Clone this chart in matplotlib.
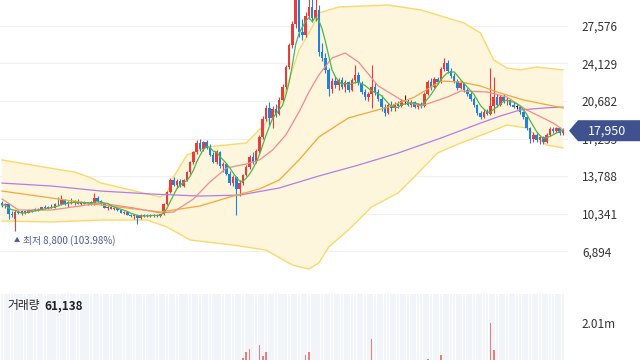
import numpy as np
import pandas as pd
import matplotlib
matplotlib.use('Agg')
import matplotlib.pyplot as plt
from matplotlib.patches import Polygon

# ── Daily candles (KRW) ────────────────────────────────
OPEN = [11300, 11100, 11200, 10300, 9900, 10500, 10400, 10550, 10450, 10650,
        10600, 10800, 10700, 10950, 10850, 11000, 10900, 11250, 11200, 11600,
        11200, 11400, 11300, 11500, 11250, 11400, 11250, 11400, 11200, 11800,
        11500, 11200, 10900, 11000, 10800, 10900, 10650, 10450, 10500, 10250,
        10100, 10200, 9950, 10250, 10100, 10250, 10150, 10250, 10100, 10300,
        11200, 12300, 13400, 13000, 13300, 12900, 13400, 14200, 15100, 16000,
        16800, 16300, 16900, 16400, 15700, 15100, 16000, 14700, 14900, 14000,
        13200, 13700, 12600, 13200, 13900, 14600, 15500, 15100, 16100, 17400,
        19000, 20000, 19100, 19900, 19500, 20800, 22000, 23800, 25800, 27700,
        30000, 27000, 26700, 28500, 29300, 28300, 29000, 25200, 24600, 23500,
        21800, 22500, 22100, 22600, 22000, 22400, 21700, 22600, 23100, 22300,
        21500, 21000, 21300, 22000, 21500, 20900, 20100, 19600, 20300, 20000,
        20400, 20200, 20700, 20700, 20300, 20600, 20100, 20400, 20200, 21300,
        22400, 22000, 22700, 22400, 23600, 24200, 23400, 23000, 22500, 21900,
        22300, 21700, 21300, 20900, 20300, 19600, 19200, 19700, 19500, 20200,
        21000, 20300, 21000, 20700, 20800, 20300, 20100, 20100, 19700, 19200,
        18200, 17200, 17600, 17100, 17400, 16900, 17600, 18100, 17900, 18200,
        17700]
HIGH = [11500, 11300, 11300, 10600, 10700, 10700, 10600, 10700, 10700, 10800,
        10850, 10900, 11000, 11100, 11050, 11200, 11300, 11900, 12100, 11700,
        11500, 11800, 11600, 11650, 11500, 11550, 11450, 11500, 12200, 12000,
        11600, 11300, 11100, 11100, 10950, 11000, 10750, 10600, 10550, 10350,
        10300, 10250, 10300, 10350, 10300, 10350, 10300, 10300, 10350, 11300,
        12400, 13600, 13700, 13500, 13500, 13500, 14300, 15200, 16100, 17100,
        17200, 17000, 17100, 16700, 16000, 16200, 16100, 15100, 15000, 14300,
        13900, 13800, 13400, 14000, 14800, 15700, 16000, 16300, 17600, 19300,
        20300, 20600, 20200, 20400, 21000, 22200, 24000, 26000, 28000, 30800,
        30500, 28200, 28800, 31000, 30200, 30600, 29500, 26000, 25100, 23700,
        22800, 23000, 22800, 22900, 22600, 22500, 22800, 24000, 23300, 22500,
        21800, 21500, 24000, 22300, 21800, 21200, 20400, 20500, 20700, 20600,
        20700, 20900, 21200, 20900, 20800, 20700, 20500, 20600, 21500, 22600,
        22800, 22900, 22900, 23800, 24600, 24400, 23700, 23200, 22700, 22500,
        22400, 21900, 21500, 21000, 20400, 19800, 19900, 19900, 23700, 22900,
        21300, 21200, 21300, 21000, 20900, 20600, 20300, 20200, 19800, 19300,
        18300, 17800, 17700, 17600, 17500, 17700, 18300, 18300, 18300, 18300,
        18200]
LOW = [11000, 10900, 9900, 10000, 8800, 10300, 10200, 10350, 10400, 10500,
       10550, 10600, 10650, 10800, 10800, 10850, 10850, 11100, 11100, 11100,
       11000, 11200, 11150, 11200, 11100, 11200, 11100, 11150, 11150, 11400,
       11100, 10850, 10700, 10750, 10650, 10600, 10400, 10300, 10200, 10000,
       9900, 9400, 9900, 10050, 10000, 10050, 10050, 10050, 10050, 10250,
       11100, 12200, 12900, 12700, 12800, 12800, 13300, 14000, 14900, 15800,
       16100, 16100, 16300, 15600, 15000, 14900, 14500, 14200, 13900, 13000,
       12900, 10200, 12000, 13000, 13800, 14400, 14900, 15000, 15900, 17200,
       18800, 18500, 18200, 19200, 19400, 20600, 21800, 23600, 25500, 27400,
       26500, 26300, 26500, 28200, 27900, 28000, 24800, 24300, 23200, 21100,
       21400, 21900, 21700, 21800, 21500, 21500, 21600, 22300, 22100, 21300,
       20800, 20700, 20000, 21200, 20700, 19800, 19300, 19500, 19800, 19800,
       20000, 20100, 20400, 20200, 20100, 20000, 19900, 20000, 20100, 21200,
       21700, 21900, 22200, 22300, 23400, 23200, 22800, 22300, 21700, 21800,
       21500, 21100, 20700, 20100, 19400, 19000, 19100, 19400, 19400, 19600,
       20100, 20200, 20500, 20300, 20200, 20000, 19900, 19500, 19000, 18000,
       16800, 16900, 16900, 16700, 16700, 16800, 17500, 17700, 17700, 17600,
       17600]
CLOSE = [11100, 11200, 10300, 10200, 10500, 10400, 10550, 10450, 10650, 10600,
         10800, 10700, 10950, 10850, 11000, 10900, 11250, 11200, 11600, 11200,
         11400, 11300, 11500, 11250, 11400, 11250, 11400, 11200, 11800, 11500,
         11200, 10900, 11000, 10800, 10900, 10650, 10450, 10500, 10250, 10100,
         10200, 9950, 10250, 10100, 10250, 10150, 10250, 10100, 10300, 11200,
         12300, 13400, 13000, 13300, 12900, 13400, 14200, 15100, 16000, 16800,
         16300, 16900, 16400, 15700, 15100, 16000, 14700, 14900, 14000, 13200,
         13700, 12600, 13200, 13900, 14600, 15500, 15100, 16100, 17400, 19000,
         20000, 19100, 19900, 19500, 20800, 22000, 23800, 25800, 27700, 30000,
         27000, 26700, 28500, 29300, 28300, 29000, 25200, 24600, 23500, 21800,
         22500, 22100, 22600, 22000, 22400, 21700, 22600, 23100, 22300, 21500,
         21000, 21300, 22000, 21500, 20900, 20100, 19600, 20300, 20000, 20400,
         20200, 20700, 20700, 20300, 20600, 20100, 20400, 20200, 21300, 22400,
         22000, 22700, 22400, 23600, 24200, 23400, 23000, 22500, 21900, 22300,
         21700, 21300, 20900, 20300, 19600, 19200, 19700, 19500, 20200, 21000,
         20300, 21000, 20700, 20800, 20300, 20100, 20100, 19700, 19200, 18200,
         17200, 17600, 17100, 17400, 16900, 17600, 18100, 17900, 18200, 17700,
         17950]
# volume in thousands of shares
VOLUME_K = [320, 280, 450, 300, 520, 260, 210, 240, 190, 230,
            210, 180, 250, 200, 220, 190, 260, 310, 420, 280,
            230, 270, 210, 190, 220, 180, 200, 170, 480, 290,
            240, 260, 180, 170, 160, 190, 210, 150, 170, 190,
            160, 300, 180, 140, 130, 150, 140, 120, 160, 380,
            560, 640, 420, 330, 310, 300, 450, 520, 600, 640,
            500, 380, 350, 420, 430, 480, 720, 380, 400, 720,
            420, 650, 560, 780, 990, 1090, 520, 640, 1240, 850,
            990, 720, 560, 480, 600, 650, 680, 690, 600, 650,
            680, 560, 880, 990, 620, 600, 650, 520, 480, 540,
            400, 350, 320, 300, 280, 260, 330, 450, 320, 280,
            260, 240, 1450, 380, 300, 280, 350, 300, 220, 240,
            200, 210, 190, 180, 200, 170, 180, 190, 400, 740,
            450, 500, 380, 880, 620, 420, 340, 300, 280, 240,
            230, 220, 260, 240, 300, 280, 250, 220, 2010, 1060,
            520, 400, 350, 300, 260, 220, 200, 230, 280, 420,
            500, 380, 300, 280, 260, 330, 300, 240, 220, 200,
            61.138]

# ── Overlay lines (candle index, price) ──
MA20_IDX = [0, 5, 15, 30, 40, 48, 52, 58, 63, 68, 74, 78, 82, 86, 90, 93, 96,
            100, 104, 108, 114, 121, 127, 135, 139, 147, 153, 159, 167, 170]
MA20_VAL = [11690, 10680, 10680, 11320, 10860, 10410, 10500, 11690, 13250, 14530,
            14900, 15270, 16180, 17560, 19670, 21500, 23060, 24620, 25070, 24250,
            22050, 20770, 20220, 21040, 21590, 21500, 21040, 19850, 18660, 18020]
MA60_IDX = [0, 15, 30, 48, 60, 69, 78, 84, 90, 96, 105, 117, 125, 133, 139,
            145, 151, 158, 170]
MA60_VAL = [12420, 11780, 11140, 10500, 11050, 11870, 12610, 13430, 15270, 17370,
            19120, 20120, 21040, 22500, 22420, 22050, 21400, 20770, 20030]
MA120_IDX = [0, 15, 30, 45, 60, 72, 84, 90, 96, 108, 120, 133, 145, 151, 157, 165, 170]
MA120_VAL = [13150, 12880, 12420, 12150, 11960, 12050, 12700, 13250, 13800, 14800,
             15900, 17280, 18650, 19300, 19850, 20050, 20120]
BB_UP_IDX = [0, 9, 18, 22, 27, 30, 39, 48, 50, 52, 56, 62, 74, 80, 85, 90, 94,
             96, 102, 117, 127, 140, 145, 149, 153, 157, 162, 170]
BB_UP_VAL = [15270, 14810, 14350, 14170, 13620, 13160, 12520, 11870, 12240, 13710,
             15720, 16460, 16820, 18660, 20770, 25350, 27460, 28740, 29290, 29470,
             29020, 27820, 26910, 24430, 23700, 23520, 23790, 23520]
BB_LO_IDX = [0, 15, 30, 44, 50, 57, 70, 80, 88, 93, 96, 99, 105, 112, 120, 124,
             132, 139, 147, 153, 159, 165, 170]
BB_LO_VAL = [9670, 9580, 9760, 9760, 9120, 7930, 7470, 7010, 5640, 5270, 5820,
             7290, 8850, 10960, 12240, 13430, 15910, 16820, 17740, 18470, 18200,
             16640, 16370]

PRICE_TICKS = [6894, 10341, 13788, 17235, 20682, 24129, 27576]
VOL_TICKS = [2.01e6]
VOL_TICK_LABELS = ['2.01m']

# ── Style ──────────────────────────────────────────────
RED = '#ec3b3b'
BLUE = '#1f82e0'
plt.rcParams['font.family'] = ['Noto Sans CJK KR', 'DejaVu Sans']

o, h, l, c = (np.array(a, dtype=float) for a in (OPEN, HIGH, LOW, CLOSE))
vol = np.array(VOLUME_K) * 1000
idx = np.arange(len(c))
cols = np.where(c > o, RED, np.where(c < o, BLUE, '#222222'))

fig = plt.figure(figsize=(6.4, 3.6), dpi=100)
ax = fig.add_axes([0, 75 / 360, 568 / 640, 285 / 360])
vax = fig.add_axes([0, -20 / 360, 568 / 640, 86 / 360])

# Bollinger band
ax.fill(np.r_[BB_UP_IDX, BB_LO_IDX[::-1]], np.r_[BB_UP_VAL, BB_LO_VAL[::-1]],
        color='#fdf6dd', lw=0, zorder=1)
ax.plot(BB_UP_IDX, BB_UP_VAL, color='#fcd86a', lw=1.0, zorder=2)
ax.plot(BB_LO_IDX, BB_LO_VAL, color='#fcd86a', lw=1.0, zorder=2)

# candles
ax.vlines(idx, l, h, colors=cols, lw=0.8, zorder=3)
ax.bar(idx, np.maximum(np.abs(c - o), 70), bottom=np.minimum(o, c),
       width=0.76, color=cols, lw=0, zorder=3)

# moving averages
ma5 = pd.Series(c).rolling(5, min_periods=1).mean()
ax.plot(MA120_IDX, MA120_VAL, color='#b57be6', lw=0.9, zorder=4)
ax.plot(MA60_IDX, MA60_VAL, color='#f7a733', lw=0.9, zorder=4)
ax.plot(MA20_IDX, MA20_VAL, color='#f28b8b', lw=0.9, zorder=4)
ax.plot(idx, ma5, color='#4cb84c', lw=0.9, zorder=4)

ax.set_xlim(-0.6, 171.5)
ax.set_ylim(3806, 29932)
ax.set_xticks([])
ax.set_yticks(PRICE_TICKS)
ax.set_yticklabels([f'{t:,}' for t in PRICE_TICKS])
ax.yaxis.tick_right()
ax.tick_params(axis='y', length=0, pad=10, labelsize=8.5, labelcolor='#333333')
ax.grid(axis='y', color='#f0f0f0', lw=0.8)
ax.set_axisbelow(True)
for s in ax.spines.values():
    s.set_visible(False)

# lowest price marker
imin = int(np.argmin(l))
ax.annotate('▲', xy=(imin, l[imin]), xytext=(2, -10), textcoords='offset pixels',
            ha='center', va='center', fontsize=4.5, color='#4a5b9c')
ax.annotate(f'최저 {l[imin]:,.0f} (103.98%)', xy=(imin, l[imin]), xytext=(8, -10),
            textcoords='offset pixels', ha='left', va='center', fontsize=7,
            color='#4a5b9c')

# volume panel
vtop = 3.03e6
vax.bar(idx, vtop, width=0.8, color='#f1f4f9', lw=0, zorder=0)
vcols = np.where(c >= o, '#f27a7a', '#7fb3ec')
vax.bar(idx, vol, width=0.5, color=vcols, lw=0, zorder=2)
vax.set_xlim(-0.6, 171.5)
vax.set_ylim(0, vtop)
vax.set_xticks([])
vax.set_yticks(VOL_TICKS)
vax.set_yticklabels(VOL_TICK_LABELS)
vax.yaxis.tick_right()
vax.tick_params(axis='y', length=0, pad=10, labelsize=8.5, labelcolor='#333333')
for s in vax.spines.values():
    s.set_visible(False)

fig.text(7 / 640, 1 - 306 / 360, '거래량', fontsize=8.5, color='#222222',
         ha='left', va='center')
fig.text(44 / 640, 1 - 306 / 360, f'{vol[-1]:,.0f}', fontsize=8.5, color='#222222',
         ha='left', va='center', fontweight='bold')

# current price tag (covers the 17,235 label, as on the original)
yd = ax.transData.transform((0, c[-1]))[1]
yc = yd / fig.bbox.height
hh = 10.5 / 360
tag = Polygon([(569 / 640, yc), (578 / 640, yc + hh), (1, yc + hh),
               (1, yc - hh), (578 / 640, yc - hh)],
              closed=True, transform=fig.transFigure, fc='#3f528f', ec='none',
              zorder=10)
fig.add_artist(tag)
fig.text(607 / 640, yc, f'{c[-1]:,.0f}', color='white', fontsize=9,
         ha='center', va='center', zorder=11)

fig.savefig('out.png', dpi=100)
